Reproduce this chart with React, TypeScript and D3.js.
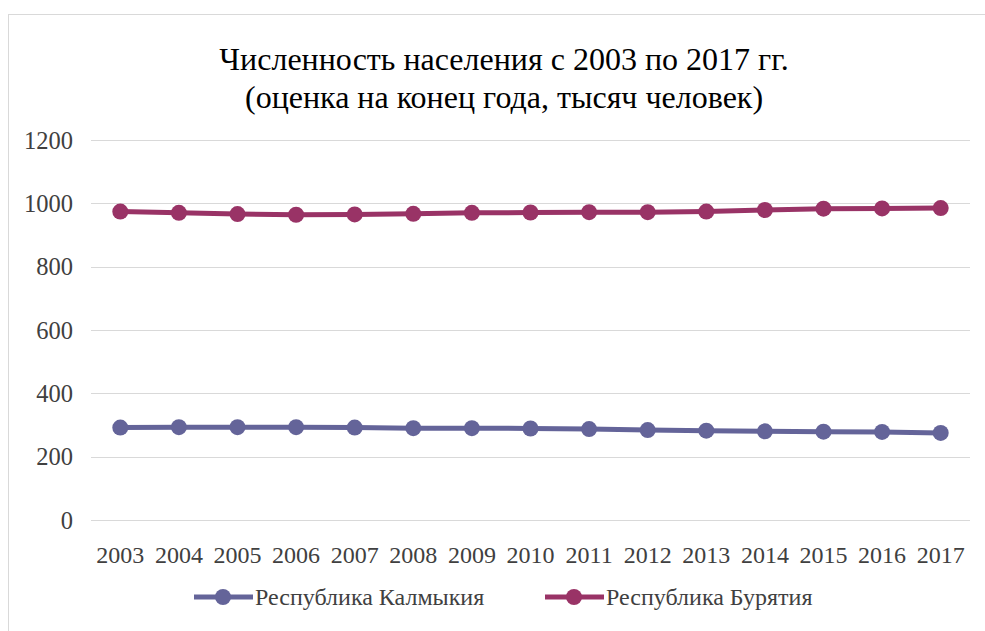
import React from "react";
import * as d3 from "d3";

const years = ["2003","2004","2005","2006","2007","2008","2009","2010","2011","2012","2013","2014","2015","2016","2017"];
const kalmykia = [292, 293, 293, 293, 292, 290, 290, 289, 287, 284, 282, 280, 279, 278, 275];
const buryatia = [974, 970, 966, 964, 965, 967, 970, 971, 972, 972, 974, 979, 983, 984, 985];
const yTicks = [0, 200, 400, 600, 800, 1000, 1200];
const seriesNames = ["Республика Калмыкия", "Республика Бурятия"];
const colors = ["#646499", "#993366"];
const titleLines = ["Численность населения с 2003 по 2017 гг.", "(оценка на конец года, тысяч человек)"];

const FONT = "'Liberation Serif', 'DejaVu Serif', 'Times New Roman', Times, serif";

export default function App() {
  const W = 985, H = 631;
  const left = 91, right = 970, top = 140, bottom = 520;
  const x = d3.scaleBand<string>().domain(years).range([left, right]);
  const y = d3.scaleLinear().domain([0, 1200]).range([bottom, top]);
  const cx = (d: string) => (x(d) as number) + x.bandwidth() / 2;
  const line = d3.line<number>().x((_, i) => cx(years[i])).y(v => y(v));
  const series = [kalmykia, buryatia];
  const legendX = [194, 545];
  const ts = { fontFamily: FONT };
  return (
    <svg width={W} height={H} style={{ position: "absolute", left: 0, top: 0, background: "#fff" }}>
      <rect x={8.5} y={14.5} width={W} height={H} fill="#fff" stroke="#d9d9d9" strokeWidth={1} />
      {titleLines.map((t, i) => (
        <text key={i} x={504} y={70 + i * 38} textAnchor="middle" fontSize={32} fill="#000" style={ts}>{t}</text>
      ))}
      {yTicks.map(t => (
        <g key={t}>
          <line x1={left} x2={right} y1={Math.round(y(t)) + 0.5} y2={Math.round(y(t)) + 0.5} stroke="#d9d9d9" strokeWidth={1} />
          <text x={73} y={y(t)} dy="0.35em" textAnchor="end" fontSize={24.5} fill="#404040" style={ts}>{t}</text>
        </g>
      ))}
      {years.map(yr => (
        <text key={yr} x={cx(yr)} y={563} textAnchor="middle" fontSize={24} fill="#404040" style={ts}>{yr}</text>
      ))}
      {series.map((s, si) => (
        <g key={si}>
          <path d={line(s) || ""} fill="none" stroke={colors[si]} strokeWidth={5} strokeLinejoin="round" />
          {s.map((v, i) => (
            <circle key={i} cx={cx(years[i])} cy={y(v)} r={8} fill={colors[si]} />
          ))}
        </g>
      ))}
      {seriesNames.map((n, i) => (
        <g key={n}>
          <line x1={legendX[i]} x2={legendX[i] + 59} y1={597} y2={597} stroke={colors[i]} strokeWidth={5} />
          <circle cx={legendX[i] + 29} cy={597} r={8} fill={colors[i]} />
          <text x={legendX[i] + 61} y={597} dy="0.35em" fontSize={24} fill="#404040" style={ts}>{n}</text>
        </g>
      ))}
    </svg>
  );
}
